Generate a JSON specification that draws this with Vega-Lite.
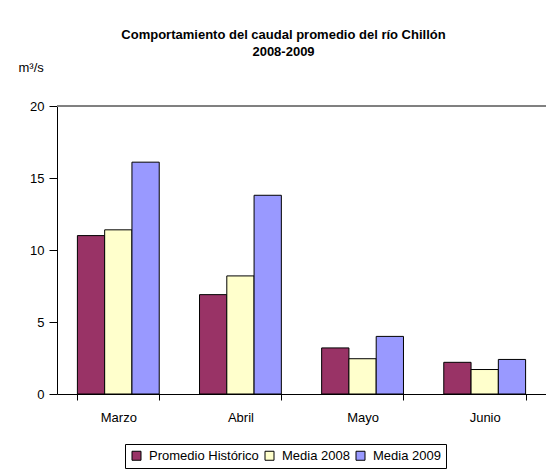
{
  "$schema": "https://vega.github.io/schema/vega-lite/v6.json",
  "autosize": {"type": "none"},
  "padding": {"left": 57, "top": 106, "right": 0, "bottom": 76},
  "width": 489,
  "height": 288,
  "background": "white",
  "title": {
    "text": ["Comportamiento del caudal promedio del río Chillón", "2008-2009"],
    "font": "Liberation Sans",
    "fontSize": 13,
    "fontWeight": "bold",
    "color": "black",
    "anchor": "middle",
    "dx": -18,
    "lineHeight": 17,
    "offset": 2
  },
  "data": {
    "values": [
      {"mes": "Marzo", "serie": "Promedio Histórico", "valor": 11.0},
      {"mes": "Marzo", "serie": "Media 2008", "valor": 11.4},
      {"mes": "Marzo", "serie": "Media 2009", "valor": 16.1},
      {"mes": "Abril", "serie": "Promedio Histórico", "valor": 6.9},
      {"mes": "Abril", "serie": "Media 2008", "valor": 8.2},
      {"mes": "Abril", "serie": "Media 2009", "valor": 13.8},
      {"mes": "Mayo", "serie": "Promedio Histórico", "valor": 3.2},
      {"mes": "Mayo", "serie": "Media 2008", "valor": 2.45},
      {"mes": "Mayo", "serie": "Media 2009", "valor": 4.0},
      {"mes": "Junio", "serie": "Promedio Histórico", "valor": 2.2},
      {"mes": "Junio", "serie": "Media 2008", "valor": 1.7},
      {"mes": "Junio", "serie": "Media 2009", "valor": 2.4}
    ]
  },
  "layer": [
    {
      "mark": {"type": "bar", "stroke": "black", "strokeWidth": 1},
      "encoding": {
        "x": {
          "field": "mes",
          "type": "nominal",
          "sort": ["Marzo", "Abril", "Mayo", "Junio"],
          "scale": {"paddingInner": 0.33, "paddingOuter": 0.167},
          "axis": {
            "title": null,
            "tickBand": "extent",
            "tickSize": 6,
            "labelPadding": 11,
            "labelAngle": 0,
            "labelFontSize": 13,
            "labelColor": "black",
            "labelFont": "Liberation Sans",
            "domainColor": "black",
            "tickColor": "black"
          }
        },
        "xOffset": {
          "field": "serie",
          "sort": ["Promedio Histórico", "Media 2008", "Media 2009"],
          "scale": {"paddingInner": 0, "paddingOuter": 0}
        },
        "y": {
          "field": "valor",
          "type": "quantitative",
          "scale": {"domain": [0, 20]},
          "axis": {
            "title": "m³/s",
            "titleAngle": 0,
            "titleX": -39,
            "titleY": -39,
            "titleAlign": "left",
            "titleBaseline": "middle",
            "titleFontWeight": "normal",
            "titleFontSize": 13,
            "titleFont": "Liberation Sans",
            "titleColor": "black",
            "values": [0, 5, 10, 15, 20],
            "grid": false,
            "domainColor": "black",
            "tickColor": "black",
            "tickSize": 8,
            "labelPadding": 5,
            "labelFontSize": 13,
            "labelFont": "Liberation Sans",
            "labelColor": "black"
          }
        },
        "color": {
          "field": "serie",
          "type": "nominal",
          "sort": ["Promedio Histórico", "Media 2008", "Media 2009"],
          "scale": {
            "domain": ["Promedio Histórico", "Media 2008", "Media 2009"],
            "range": ["#993366", "#FFFFCC", "#9999FF"]
          },
          "legend": {
            "orient": "none",
            "legendX": 68,
            "legendY": 338,
            "direction": "horizontal",
            "title": null,
            "strokeColor": "black",
            "fillColor": "white",
            "padding": 5,
            "symbolType": "square",
            "symbolSize": 81,
            "symbolStrokeColor": "black",
            "symbolStrokeWidth": 1,
            "symbolOpacity": 1,
            "labelFontSize": 13,
            "labelFont": "Liberation Sans",
            "labelColor": "black",
            "columnPadding": 4,
            "labelOffset": 6
          }
        }
      }
    },
    {
      "mark": {"type": "rule", "color": "#808080", "strokeWidth": 1},
      "encoding": {"y": {"datum": 20}}
    }
  ],
  "config": {"view": {"stroke": null}, "font": "Liberation Sans"}
}
